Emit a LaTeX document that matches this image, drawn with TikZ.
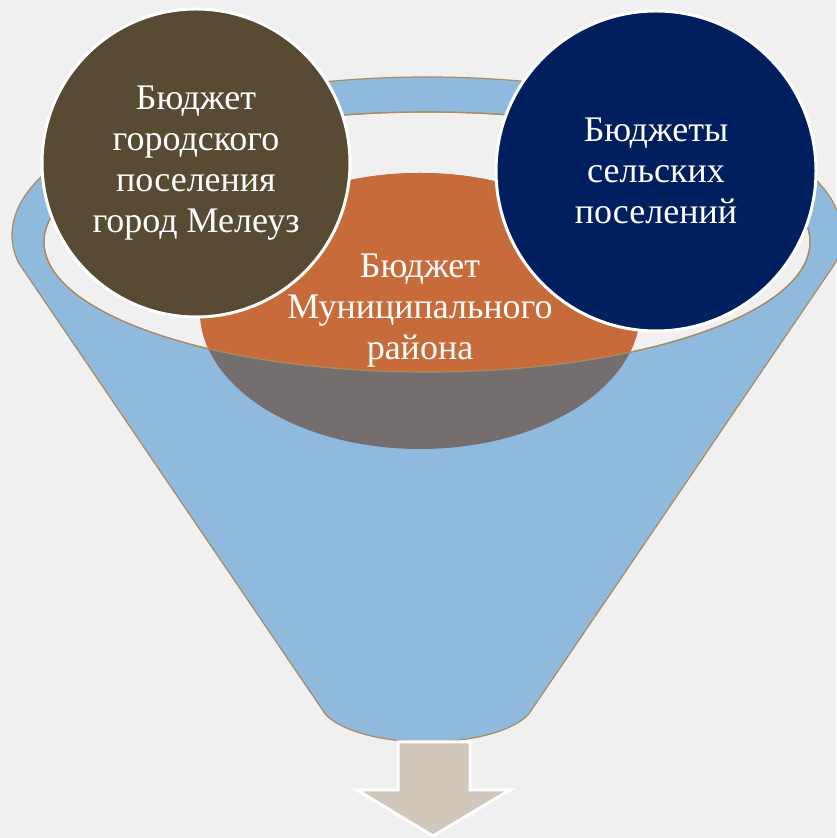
\documentclass[tikz,border=0pt]{standalone}
\usepackage{fontspec}
\setmainfont{Liberation Serif}
\usepackage{tikz}
\definecolor{wwwwww}{rgb}{0.94,0.94,0.94}
\definecolor{ttbbdd}{rgb}{0.56,0.73,0.87}
\definecolor{aattqq}{rgb}{0.66,0.55,0.38}
\definecolor{ccttqq}{rgb}{0.78,0.42,0.23}
\definecolor{ttsstt}{rgb}{0.46,0.43,0.43}
\definecolor{sstqqq}{rgb}{0.35,0.29,0.20}
\definecolor{qqqqss}{rgb}{0.00,0.12,0.37}
\definecolor{ddccbb}{rgb}{0.82,0.78,0.73}
\tikzset{bubble/.style={circle,draw=white,line width=3pt,inner sep=0pt,text=white,align=center,font=\fontsize{36}{41}\selectfont}}

\begin{document}
\begin{tikzpicture}[line cap=round,line join=round,x=1pt,y=1pt]
    \useasboundingbox (0,0) rectangle (836,838);
    \fill[color=wwwwww] (0,0) rectangle (836,838);
    \draw[fill=ttbbdd,draw=aattqq,line width=1.2pt] ([shift={(427,603)}]190:415 and 158) -- ([shift={(427,138)}]200:108 and 42) arc (200:340:108 and 42) -- ([shift={(427,603)}]-10:415 and 158) arc (-10:190:415 and 158) -- cycle;
    \draw[fill=ddccbb,draw=white,line width=3pt,line join=miter] (398,96) -- (470,96) -- (470,48) -- (510,48) -- (433,2) -- (357,48) -- (398,48) -- cycle;
    \draw[fill=wwwwww,draw=aattqq,line width=1.2pt] (427,596) ellipse (383 and 130);
    \fill[color=ttsstt] (420,527) ellipse (220 and 138);
    \begin{scope}
    \clip (427,596) ellipse (383 and 130);
    \fill[color=ccttqq] (420,527) ellipse (220 and 138);
    \end{scope}
    \draw[color=aattqq,line width=1.2pt] (427,596) ellipse (383 and 130);
    \node[text=white,align=center,font=\fontsize{36}{41}\selectfont] (rayon) at (420,527) {Бюджет\\Муниципального\\района};
    \node[bubble,fill=sstqqq,minimum size=308pt] (gorod) at (196,675) {Бюджет\\городского\\поселения\\город Мелеуз};
    \node[bubble,fill=qqqqss,minimum size=320pt] (selo) at (656,667) {Бюджеты\\сельских\\поселений};
\end{tikzpicture}
\end{document}
